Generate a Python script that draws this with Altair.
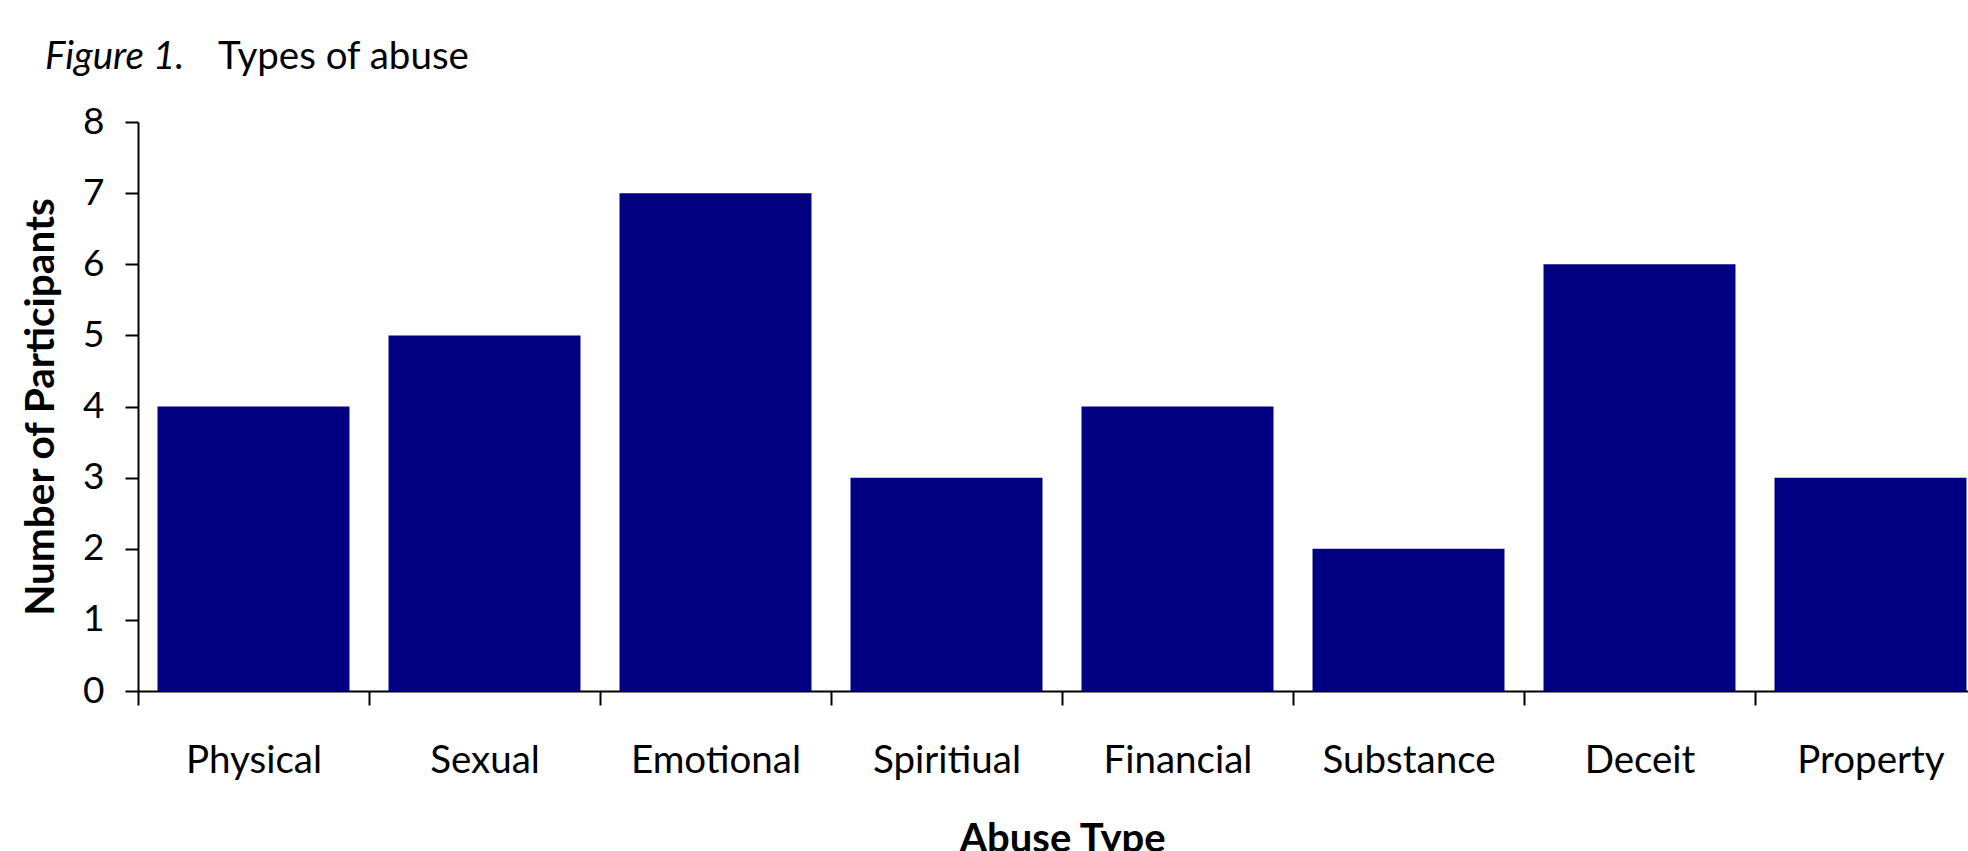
import altair as alt
import pandas as pd

# ---- data ----
categories = ["Physical", "Sexual", "Emotional", "Spiritiual", "Financial",
              "Substance", "Deceit", "Property"]
participants = [4, 5, 7, 3, 4, 2, 6, 3]
y_ticks = [0, 1, 2, 3, 4, 5, 6, 7, 8]
title_italic = "Figure 1."
title_plain = "Types of abuse"
x_title = "Abuse Type"
y_title = "Number of Participants"

df = pd.DataFrame({"type": categories, "n": participants})

FONT = "Lato"
W, H = 1848, 569

bars = alt.Chart(df).mark_bar(
    color="#000080", width=alt.RelativeBandSize(0.831)
).encode(
    x=alt.X(
        "type:N", sort=categories,
        scale=alt.Scale(paddingInner=0, paddingOuter=0),
        axis=alt.Axis(
            title=x_title, tickBand="extent", labelAngle=0,
            labelFont=FONT, labelFontSize=38.5, labelColor="black",
            labelBaseline="alphabetic", labelPadding=67, labelLimit=0,
            tickSize=14, tickColor="black", tickWidth=2,
            domainColor="black", domainWidth=2,
            titleFont=FONT, titleFontSize=40, titleFontWeight="bold",
            titleColor="black", titleBaseline="alphabetic", titleY=160.5,
        ),
    ),
    y=alt.Y(
        "n:Q",
        scale=alt.Scale(domain=[0, 8], nice=False),
        axis=alt.Axis(
            values=y_ticks, title=y_title, grid=False,
            labelFont=FONT, labelFontSize=37, labelColor="black",
            labelPadding=21, labelFlush=False, labelOverlap=False,
            tickSize=13, tickColor="black", tickWidth=2,
            domainColor="black", domainWidth=2,
            titleFont=FONT, titleFontSize=40.5, titleFontWeight="bold",
            titleColor="black", titleAngle=270, titleAlign="center",
            titleBaseline="alphabetic", titleX=-85, titleY=284.5,
        ),
    ),
)

t_italic = alt.Chart(pd.DataFrame({"t": [title_italic]})).mark_text(
    align="left", baseline="alphabetic", font=FONT, fontSize=38.5,
    fontStyle="italic", color="black"
).encode(text="t:N", x=alt.value(-93), y=alt.value(-53))

t_plain = alt.Chart(pd.DataFrame({"t": [title_plain]})).mark_text(
    align="left", baseline="alphabetic", font=FONT, fontSize=38.5,
    color="black"
).encode(text="t:N", x=alt.value(80), y=alt.value(-53))

chart = alt.layer(bars, t_italic, t_plain).properties(
    width=W, height=H,
    autosize=alt.AutoSizeParams(type="none"),
    padding={"left": 138, "top": 122, "right": -18, "bottom": 160},
).configure_view(stroke=None).configure_axis(grid=False)

chart.save("out.html", embed_options={"renderer": "svg", "actions": False})
